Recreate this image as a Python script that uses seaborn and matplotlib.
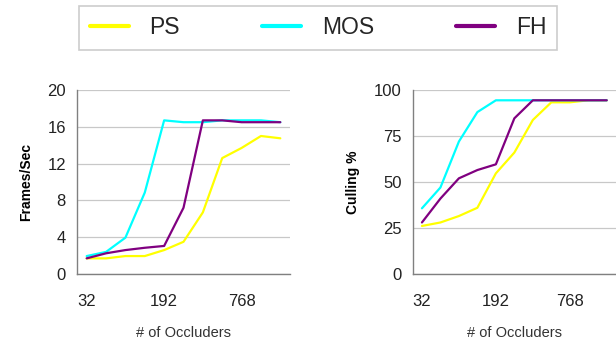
import matplotlib
matplotlib.use("Agg")
import matplotlib.pyplot as plt
from matplotlib.lines import Line2D
import seaborn as sns
import pandas as pd
import numpy as np

# ---- data ----
occluders = [32, 64, 96, 128, 192, 256, 384, 512, 768, 1024, 1536]
tick_labels = ["32", "192", "768"]
methods = ["PS", "MOS", "FH"]
colors = ["#FFFF00", "#00FFFF", "#800080"]

fps_ps = [1.7, 1.7, 1.95, 1.95, 2.6, 3.5, 6.7, 12.6, 13.7, 15.0, 14.75]
fps_mos = [1.95, 2.4, 3.95, 8.85, 16.7, 16.5, 16.5, 16.7, 16.7, 16.7, 16.5]
fps_fh = [1.7, 2.25, 2.6, 2.85, 3.05, 7.2, 16.7, 16.7, 16.5, 16.5, 16.5]

cull_ps = [26.1, 28.0, 31.5, 36.0, 54.7, 66.0, 83.7, 93.3, 93.3, 94.4, 94.4]
cull_mos = [35.7, 47.0, 72.0, 88.0, 94.4, 94.4, 94.4, 94.4, 94.4, 94.4, 94.4]
cull_fh = [28.0, 41.0, 52.0, 56.5, 59.6, 84.6, 94.4, 94.4, 94.4, 94.4, 94.4]

rows = []
for m, f, c in zip(methods, [fps_ps, fps_mos, fps_fh], [cull_ps, cull_mos, cull_fh]):
    for i, occ in enumerate(occluders):
        rows.append({"method": m, "idx": i, "occ": occ, "fps": f[i], "cull": c[i]})
df = pd.DataFrame(rows)

sns.set_style("white")
plt.rcParams["font.family"] = ["Liberation Sans", "DejaVu Sans"]

fig = plt.figure(figsize=(6.16, 3.43), dpi=100)
W, H = 616, 343
def ax_at(x0, y0, x1, y1):
    return fig.add_axes([x0 / W, 1 - y1 / H, (x1 - x0) / W, (y1 - y0) / H])

ax1 = ax_at(77, 90, 290, 274)
ax2 = ax_at(412.7, 90, 616, 274)

palette = dict(zip(methods, colors))
specs = [
    (ax1, "fps", [0, 4, 8, 12, 16, 20], (0, 20), "Frames/Sec"),
    (ax2, "cull", [0, 25, 50, 75, 100], (0, 100), "Culling %"),
]
for ax, col, yt, ylim, ylab in specs:
    sns.lineplot(data=df, x="idx", y=col, hue="method", palette=palette,
                 hue_order=methods, ax=ax, linewidth=1.6, legend=False)
    ax.set_xlim(-0.5, 10.5)
    ax.set_ylim(*ylim)
    ax.set_yticks(yt)
    ax.yaxis.grid(True, color="#c8c8c8", linewidth=0.9)
    ax.set_axisbelow(True)
    for s in ["top", "right"]:
        ax.spines[s].set_visible(False)
    for s in ["left", "bottom"]:
        ax.spines[s].set_color("#808080")
        ax.spines[s].set_linewidth(1.0)
    # labels at category centers, tick marks at category boundaries
    ax.set_xticks([0, 4, 8])
    ax.set_xticklabels(tick_labels)
    ax.set_xticks([-0.5, 3.5, 7.5], minor=True)
    ax.tick_params(axis="x", which="major", length=0, pad=14.5, labelsize=12, colors="#222222")
    ax.tick_params(axis="x", which="minor", length=6, width=1.0, color="#808080", direction="out")
    ax.tick_params(axis="y", length=7, width=1.0, color="#808080", direction="out",
                   pad=1, labelsize=12, labelcolor="#222222")
    ax.set_xlabel("# of Occluders", fontsize=10.5, color="#333333", labelpad=12)
    ax.set_ylabel(ylab, fontsize=10, fontweight="bold", color="black", labelpad=10)

handles = [Line2D([0], [0], color=c, linewidth=3) for c in colors]
leg = fig.legend(handles, methods, loc="center", bbox_to_anchor=(318 / W, 1 - 28 / H),
                 ncol=3, frameon=True, fancybox=False, fontsize=16.5,
                 handlelength=1.7, handletextpad=0.9, columnspacing=3.6,
                 borderpad=0.45, edgecolor="#c0c0c0")
leg.get_frame().set_linewidth(1.2)

fig.savefig("out.png", dpi=100)
